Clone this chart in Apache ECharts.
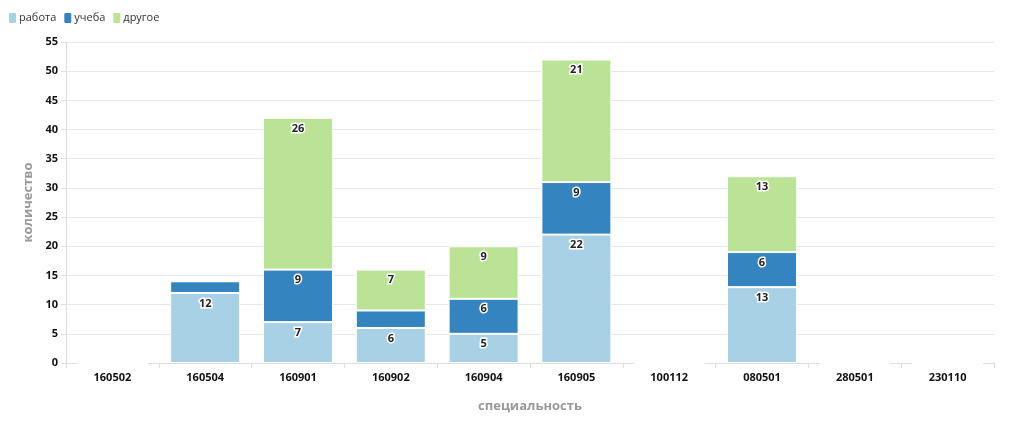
<!DOCTYPE html>
<html><head><meta charset="utf-8">
<script src="https://cdn.jsdelivr.net/npm/echarts@6/dist/echarts.min.js"></script>
<style>html,body{margin:0;padding:0;background:#fff}#c{width:1024px;height:441px}</style>
</head><body><div id="c"></div>
<script>
var categories = ['160502','160504','160901','160902','160904','160905','100112','080501','280501','230110'];
var rabota = [0, 12, 7, 6, 5, 22, 0, 13, 0, 0];
var ucheba = [0, 2, 9, 3, 6, 9, 0, 6, 0, 0];
var drugoe = [0, 0, 26, 7, 9, 21, 0, 13, 0, 0];
var seriesNames = ['работа','учеба','другое'];
var colors = ['#a9d1e5','#3484bf','#bae396'];

var font = '"Open Sans", "DejaVu Sans", sans-serif';
function mk(name, data, color){
  return {
    name: name, type: 'bar', stack: 'total', data: data, barWidth: 70,
    itemStyle: {color: color, borderColor: '#fff', borderWidth: 1},
    label: {show: true, position: 'insideTop', distance: 5,
      formatter: function(p){ return p.value >= 5 ? p.value : ''; },
      color: '#222', fontWeight: 'bold', fontSize: 11, fontFamily: font,
      textBorderColor: '#fff', textBorderWidth: 3}
  };
}
var chart = echarts.init(document.getElementById('c'), null, {renderer:'canvas'});
chart.setOption({
  animation: false,
  color: colors,
  textStyle: {fontFamily: font},
  legend: {left: 2, top: 6, itemWidth: 9, itemHeight: 12, itemGap: 6, icon: 'roundRect',
    textStyle: {fontSize: 11, color: '#333', fontFamily: font, padding:[0,0,0,-3]}},
  grid: {left: 66, right: 30, top: 42, bottom: 78},
  xAxis: {type: 'category', data: categories,
    name: 'специальность', nameLocation: 'middle', nameGap: 37,
    nameTextStyle: {color: '#999', fontWeight: 'bold', fontSize: 13, fontFamily: font},
    axisLine: {lineStyle: {color: '#ddd'}},
    axisTick: {show: true, alignWithLabel: false, length: 5, lineStyle: {color: '#ddd'}},
    axisLabel: {color: '#111', fontWeight: 'bold', fontSize: 11, margin: 9, fontFamily: font}},
  yAxis: {type: 'value', min: 0, max: 55, interval: 5,
    name: 'количество', nameLocation: 'middle', nameGap: 31,
    nameTextStyle: {color: '#999', fontWeight: 'bold', fontSize: 13, fontFamily: font},
    axisLine: {show: true, lineStyle: {color: '#ddd'}},
    axisTick: {show: true, length: 5, lineStyle: {color: '#ddd'}},
    axisLabel: {color: '#111', fontWeight: 'bold', fontSize: 11, margin: 8, fontFamily: font},
    splitLine: {lineStyle: {color: '#e8e8e8'}}},
  series: [mk(seriesNames[0], rabota, colors[0]), mk(seriesNames[1], ucheba, colors[1]), mk(seriesNames[2], drugoe, colors[2])]
});
</script></body></html>
